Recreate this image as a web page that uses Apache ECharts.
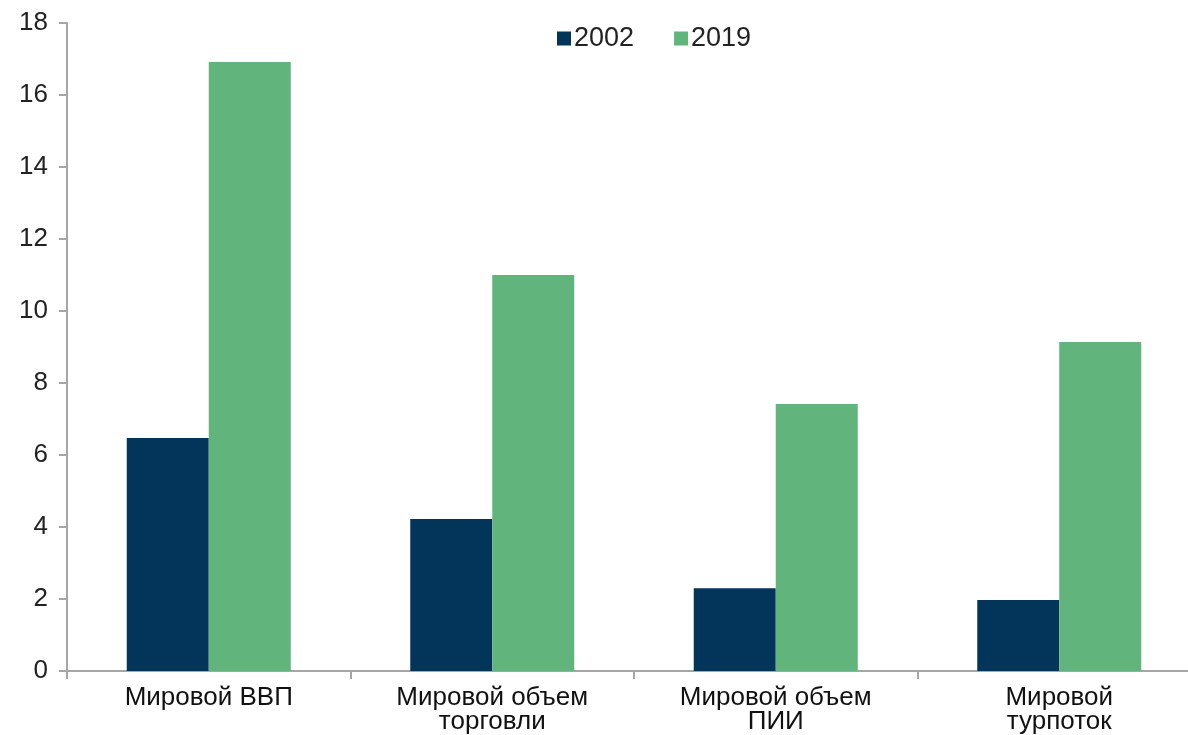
<!DOCTYPE html>
<html>
<head>
<meta charset="utf-8">
<script src="https://cdn.jsdelivr.net/npm/echarts@6/dist/echarts.min.js"></script>
<style>
* { margin: 0; padding: 0; }
html, body { width: 1188px; height: 735px; background: #fff; overflow: hidden; }
</style>
</head>
<body>
<!--容器，右侧超出画面一点，和原图一样被裁掉-->
<div id="main" style="width: 1210px; height: 735px"></div>
<script>
// 数据
var categories = ["Мировой ВВП", "Мировой объем\nторговли", "Мировой объем\nПИИ", "Мировой\nтурпоток"];
var seriesNames = ["2002", "2019"];
var values2002 = [6.47, 4.22, 2.3, 1.97];
var values2019 = [16.92, 11.0, 7.42, 9.14];
var yTicks = { min: 0, max: 18, interval: 2 };

var chart = echarts.init(document.getElementById("main"));
chart.setOption({
  animation: false,
  color: ["#03355b", "#61b47c"],
  //图例
  legend: {
    top: 20,
    left: 552,
    itemWidth: 14,
    itemHeight: 14,
    itemGap: 40,
    icon: "rect",
    textStyle: { color: "#222", fontSize: 27, fontFamily: "Liberation Sans", padding: [0, 0, 0, -2] },
    data: seriesNames
  },
  grid: {
    left: 67,
    top: 23,
    width: 1134,
    height: 648
  },
  xAxis: {
    type: "category",
    data: categories,
    axisLine: { lineStyle: { color: "#a6a6a6", width: 2 } },
    axisTick: { show: true, length: 8, lineStyle: { color: "#a6a6a6", width: 2 } },
    axisLabel: {
      color: "#111",
      fontSize: 26,
      fontFamily: "Liberation Sans",
      lineHeight: 24,
      margin: 15
    }
  },
  yAxis: {
    type: "value",
    min: yTicks.min,
    max: yTicks.max,
    interval: yTicks.interval,
    axisLine: { show: true, lineStyle: { color: "#a6a6a6", width: 2 } },
    axisTick: { show: true, length: 8, lineStyle: { color: "#a6a6a6", width: 2 } },
    splitLine: { show: false },
    axisLabel: {
      color: "#222",
      fontSize: 26,
      fontFamily: "Liberation Sans",
      margin: 19
    }
  },
  series: [
    {
      name: seriesNames[0],
      type: "bar",
      data: values2002,
      barWidth: 82,
      barGap: "0%"
    },
    {
      name: seriesNames[1],
      type: "bar",
      data: values2019,
      barWidth: 82,
      barGap: "0%"
    }
  ]
});
</script>
</body>
</html>
